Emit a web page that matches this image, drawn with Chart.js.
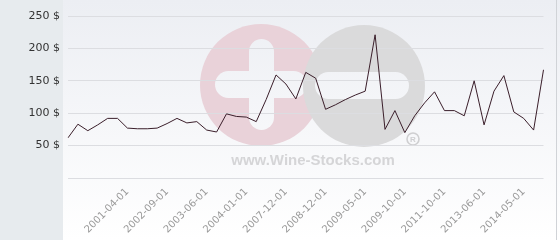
<!DOCTYPE html>
<html><head><meta charset="utf-8">
<script src="https://cdn.jsdelivr.net/npm/chart.js@4"></script>
<style>html,body{margin:0;padding:0;background:#fff;overflow:hidden}canvas{display:block}</style>
</head><body>
<canvas id="c" width="560" height="240"></canvas>
<script>
const categories = [
  '', '', '', '', '', '', '2001-04-01', '', '', '',
  '2002-09-01', '', '', '', '2003-06-01', '', '', '', '2004-01-01', '',
  '', '', '2007-12-01', '', '', '', '2008-12-01', '', '', '',
  '2009-05-01', '', '', '', '2009-10-01', '', '', '', '2011-10-01', '',
  '', '', '2013-06-01', '', '', '', '2014-05-01', '', ''
];
const prices = [
  62, 83, 73, 82, 92, 92, 77, 76, 76, 77,
  84, 92, 85, 87, 74, 71, 99, 95, 94, 87,
  121, 159, 145, 122, 163, 154, 106, 113, 121, 128,
  134, 221, 75, 104, 70, 96, 116, 133, 104, 104,
  96, 150, 82, 134, 158, 102, 92, 74, 167
];
const yMin = 0, yMax = 250, yStep = 50;
const currency = ' $';
const watermarkText = 'www.Wine-Stocks.com';

Chart.defaults.font.family = '"DejaVu Sans", sans-serif';

function bgGradient(ctx) {
  const g = ctx.createLinearGradient(0, 0, 0, 240);
  g.addColorStop(0, '#eceef3');
  g.addColorStop(1, '#ffffff');
  return g;
}
function pill(ctx, x, y, w, h) {
  const r = Math.min(w, h) / 2;
  ctx.beginPath();
  ctx.moveTo(x + r, y);
  ctx.arcTo(x + w, y, x + w, y + h, r);
  ctx.arcTo(x + w, y + h, x, y + h, r);
  ctx.arcTo(x, y + h, x, y, r);
  ctx.arcTo(x, y, x + w, y, r);
  ctx.closePath();
  ctx.fill();
}

const backdrop = {
  id: 'backdrop',
  beforeDraw(chart) {
    const ctx = chart.ctx;
    ctx.save();
    const g = bgGradient(ctx);
    ctx.fillStyle = g;
    ctx.fillRect(0, 0, 560, 240);
    ctx.fillStyle = '#e7ebee';
    ctx.fillRect(0, 0, 63, 240);
    ctx.fillStyle = '#d0d3d7';
    ctx.fillRect(556, 0, 1, 240);
    // watermark: pink circle with plus
    ctx.fillStyle = '#e9d2d9';
    ctx.beginPath(); ctx.arc(261, 85, 61, 0, Math.PI * 2); ctx.fill();
    ctx.fillStyle = g;
    pill(ctx, 249, 39, 25, 91);
    pill(ctx, 215, 71, 92, 27);
    // gray circle with minus
    ctx.fillStyle = '#dadadb';
    ctx.beginPath(); ctx.arc(364, 86, 61, 0, Math.PI * 2); ctx.fill();
    ctx.fillStyle = g;
    pill(ctx, 315, 72, 94, 27);
    // text
    ctx.fillStyle = '#d5d5d7';
    ctx.font = 'bold 15px "Liberation Sans", Arial, sans-serif';
    ctx.textAlign = 'center';
    ctx.textBaseline = 'alphabetic';
    ctx.fillText(watermarkText, 313, 165);
    // registered mark
    ctx.strokeStyle = '#cfcfd1';
    ctx.lineWidth = 1.6;
    ctx.beginPath(); ctx.arc(413, 139, 6, 0, Math.PI * 2); ctx.stroke();
    ctx.fillStyle = '#cfcfd1';
    ctx.font = 'bold 8px "Liberation Sans", Arial, sans-serif';
    ctx.textBaseline = 'middle';
    ctx.fillText('R', 413, 139.5);
    ctx.restore();
  }
};

new Chart(document.getElementById('c'), {
  type: 'line',
  data: {
    labels: categories,
    datasets: [{
      data: prices,
      borderColor: '#3a1e2a',
      borderWidth: 1,
      pointRadius: 0,
      tension: 0,
      fill: false
    }]
  },
  options: {
    responsive: false,
    animation: false,
    events: [],
    layout: { padding: { top: 16, right: 5.5, left: 0, bottom: 0 } },
    plugins: { legend: { display: false }, tooltip: { enabled: false } },
    scales: {
      x: {
        grid: { display: false, drawTicks: false },
        border: { display: false },
        ticks: { autoSkip: false, maxRotation: 45, minRotation: 45, color: '#999', font: { size: 10 }, padding: 8 },
        afterFit(s) { s.height = 62; }
      },
      y: {
        min: yMin, max: yMax,
        grid: { color: '#dcdde1', drawTicks: false },
        border: { display: false },
        ticks: { stepSize: yStep, color: '#333', font: { size: 11 }, padding: 8,
          callback: v => v === 0 ? '' : v + currency },
        afterFit(s) { s.width = 68; }
      }
    }
  },
  plugins: [backdrop]
});
</script>
</body></html>
